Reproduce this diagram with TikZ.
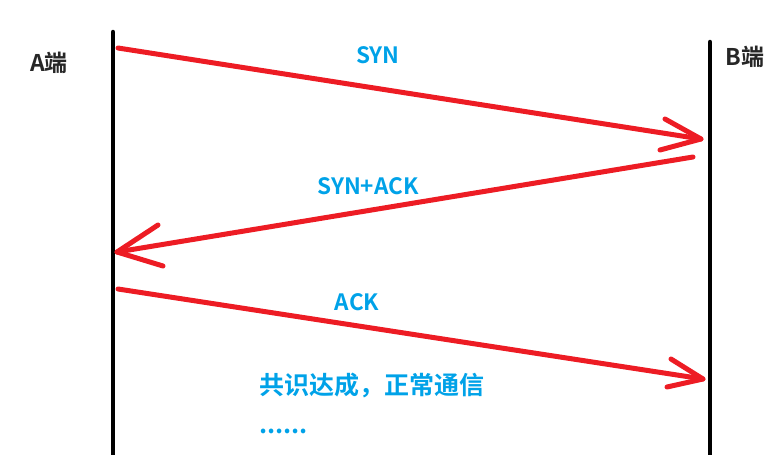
\documentclass[tikz,border=0pt]{standalone}
\usepackage{fontspec}
\setmainfont{Noto Sans CJK SC}
\newfontfamily\cjkb{Noto Sans CJK SC Bold}
\definecolor{paintred}{HTML}{ED1C24}
\definecolor{paintblue}{HTML}{00A2E8}
\begin{document}
\begin{tikzpicture}[x=1pt,y=-1pt,
  lifeline/.style={line width=4.5pt,black,line cap=round},
  msg/.style={line width=5pt,paintred,line cap=round,line join=round},
  endlabel/.style={font=\cjkb\fontsize{23}{23}\selectfont,text=black!85,inner sep=0pt},
  msglabel/.style={font=\cjkb\fontsize{22.5}{22.5}\selectfont,text=paintblue,inner sep=0pt},
  notelabel/.style={font=\cjkb\fontsize{25}{25}\selectfont,text=paintblue,inner sep=0pt,anchor=west}]
\useasboundingbox (0,0) rectangle (774,455);
% lifelines
\coordinate (Atop) at (113,32);
\coordinate (Abot) at (113,460);
\coordinate (Btop) at (710,42);
\coordinate (Bbot) at (710,460);
\draw[lifeline] (Atop) -- (Abot);
\draw[lifeline] (Btop) -- (Bbot);
\node[endlabel] (A) at (49,63) {A端};
\node[endlabel] (B) at (745,57) {B端};
% SYN
\coordinate (s1) at (118,48);
\coordinate (s2) at (701,139);
\draw[msg] (s1) -- (s2);
\draw[msg] (665,119) -- (s2) -- (660,150);
\node[msglabel] (syn) at (378,55) {SYN};
% SYN+ACK
\coordinate (sa1) at (693,157);
\coordinate (sa2) at (117,252);
\draw[msg] (sa1) -- (sa2);
\draw[msg] (158,225) -- (sa2) -- (163,266);
\node[msglabel] (synack) at (368,186) {SYN+ACK};
% ACK
\coordinate (a1) at (118,289);
\coordinate (a2) at (703,379);
\draw[msg] (a1) -- (a2);
\draw[msg] (671,359) -- (a2) -- (667,387);
\node[msglabel] (ack) at (357,302) {ACK};
% notes
\node[notelabel] (note) at (259,385) {共识达成，正常通信};
\node[notelabel] (dots) at (259,431) {......};
\end{tikzpicture}
\end{document}
